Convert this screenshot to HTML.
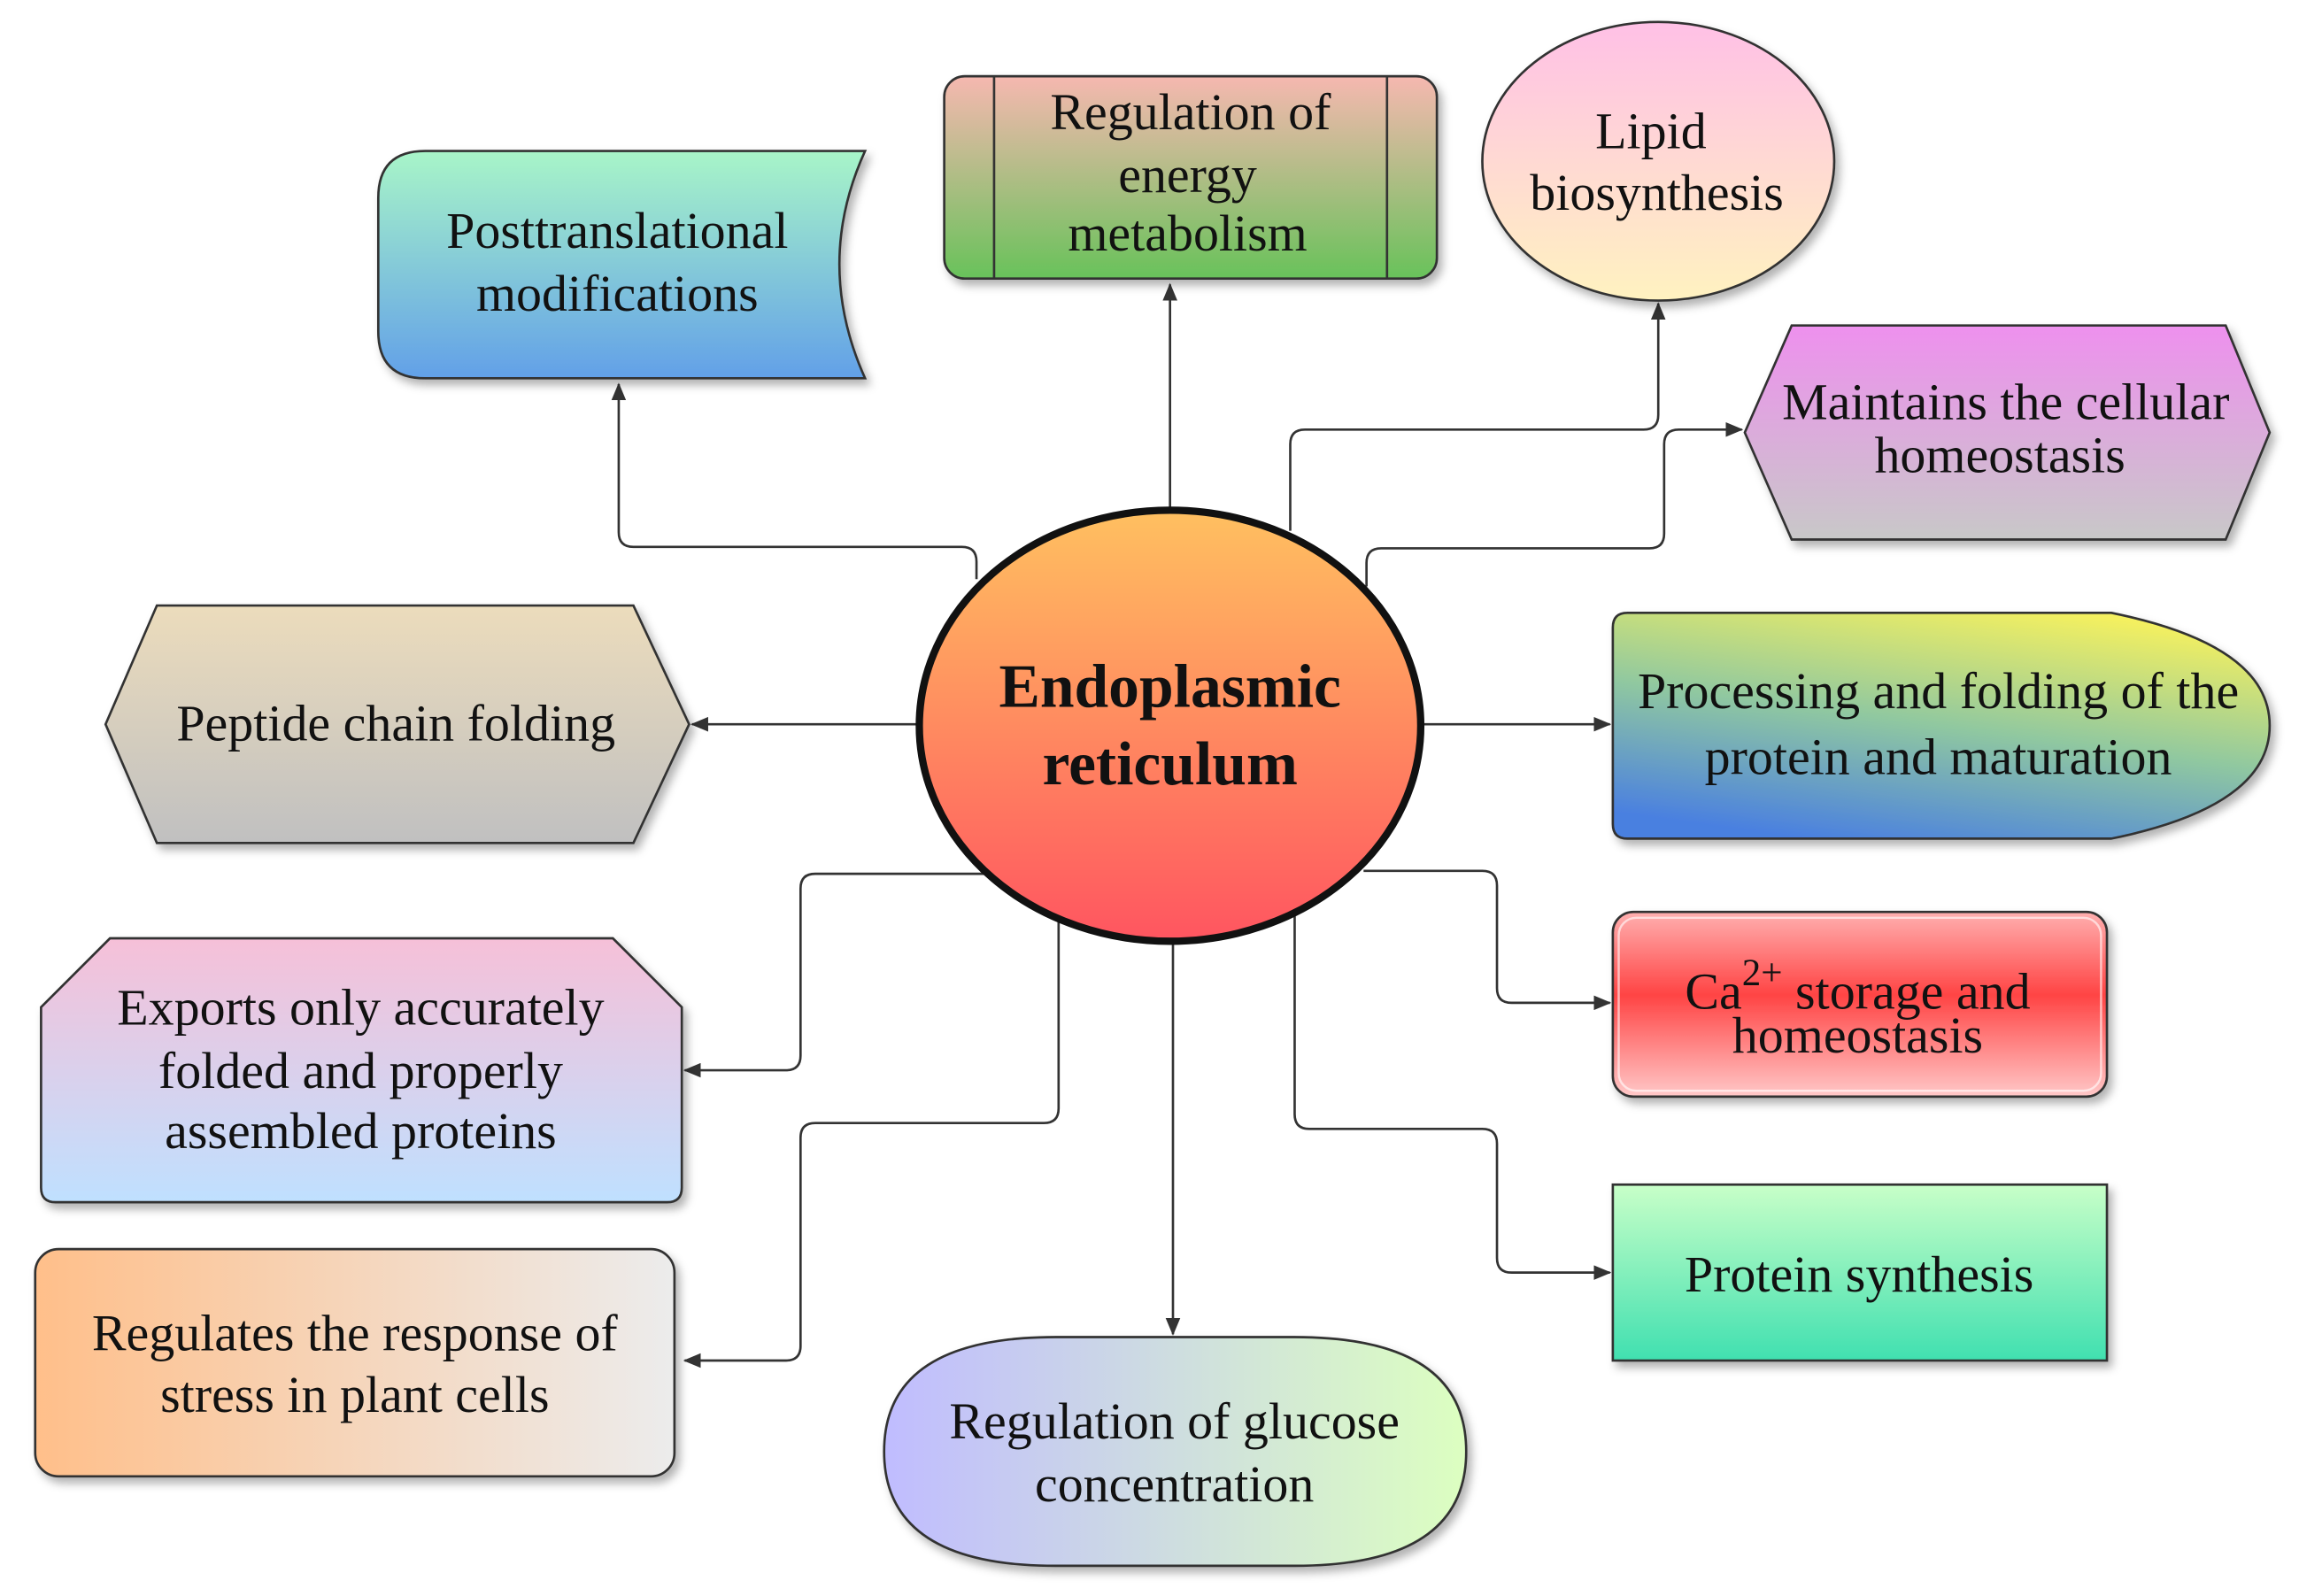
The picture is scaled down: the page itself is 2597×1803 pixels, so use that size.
<!DOCTYPE html>
<html><head><meta charset="utf-8"><style>html,body{margin:0;padding:0;background:#fff}svg{display:block}text{font-family:"Liberation Serif",serif;fill:#111}</style></head>
<body>
<svg width="2597" height="1803" viewBox="0 0 1568 1088.6" xmlns="http://www.w3.org/2000/svg">
<defs>
<filter id="sh" x="-10%" y="-10%" width="130%" height="130%"><feDropShadow dx="3" dy="4" stdDeviation="3" flood-color="#000" flood-opacity="0.3"/></filter>
<marker id="ar" markerWidth="12" markerHeight="10" refX="11" refY="5" orient="auto" markerUnits="userSpaceOnUse"><path d="M0,0 L12,5 L0,10 Z" fill="#333"/></marker>
<linearGradient id="gC" x1="0" y1="0" x2="0" y2="1"><stop offset="0" stop-color="#ffc060"/><stop offset="1" stop-color="#ff5560"/></linearGradient>
<linearGradient id="g1" x1="0" y1="0" x2="0" y2="1"><stop offset="0" stop-color="#a8f5c8"/><stop offset="1" stop-color="#62a0e8"/></linearGradient>
<linearGradient id="g2" x1="0" y1="0" x2="0" y2="1"><stop offset="0" stop-color="#f6b8b0"/><stop offset="1" stop-color="#68c25a"/></linearGradient>
<linearGradient id="g3" x1="0" y1="0" x2="0" y2="1"><stop offset="0" stop-color="#ffc0e6"/><stop offset="1" stop-color="#fff2c0"/></linearGradient>
<linearGradient id="g4" x1="0" y1="0" x2="0" y2="1"><stop offset="0" stop-color="#ee90ee"/><stop offset="1" stop-color="#c8c8c8"/></linearGradient>
<linearGradient id="g5" x1="0" y1="0" x2="0" y2="1"><stop offset="0" stop-color="#ecdcbc"/><stop offset="1" stop-color="#c0c0c0"/></linearGradient>
<linearGradient id="g6" x1="0.7" y1="0" x2="0.3" y2="1"><stop offset="0" stop-color="#f4f060"/><stop offset="0.5" stop-color="#90c8a0"/><stop offset="1" stop-color="#4a80e0"/></linearGradient>
<linearGradient id="g7" x1="0" y1="0" x2="0" y2="1"><stop offset="0" stop-color="#f6c0d8"/><stop offset="1" stop-color="#bfe0ff"/></linearGradient>
<linearGradient id="g8" x1="0" y1="0" x2="0" y2="1"><stop offset="0" stop-color="#ffb0b0"/><stop offset="0.45" stop-color="#f44"/><stop offset="1" stop-color="#ffc8c8"/></linearGradient>
<linearGradient id="g9" x1="0" y1="0" x2="1" y2="0"><stop offset="0" stop-color="#ffbf8a"/><stop offset="1" stop-color="#ececec"/></linearGradient>
<linearGradient id="g10" x1="0" y1="0" x2="0" y2="1"><stop offset="0" stop-color="#c8ffc8"/><stop offset="1" stop-color="#40e0b0"/></linearGradient>
<linearGradient id="g11" x1="0" y1="0" x2="1" y2="0"><stop offset="0" stop-color="#c0bcff"/><stop offset="1" stop-color="#dcffc0"/></linearGradient>
</defs>

<g fill="none" stroke="#333" stroke-width="1.6" stroke-linejoin="round">
<path d="M666,395 V383 Q666,373 656,373 H432 Q422,373 422,363 V262" marker-end="url(#ar)"/>
<path d="M798,347 V194" marker-end="url(#ar)"/>
<path d="M880,362 V303 Q880,293 890,293 H1121 Q1131,293 1131,283 V207" marker-end="url(#ar)"/>
<path d="M932,400 V384 Q932,374 942,374 H1125 Q1135,374 1135,364 V303 Q1135,293 1145,293 H1188" marker-end="url(#ar)"/>
<path d="M628,494 H472" marker-end="url(#ar)"/>
<path d="M970,494 H1098" marker-end="url(#ar)"/>
<path d="M672,596 H556 Q546,596 546,606 V720 Q546,730 536,730 H467" marker-end="url(#ar)"/>
<path d="M722,625 V756 Q722,766 712,766 H556 Q546,766 546,776 V918 Q546,928 536,928 H467" marker-end="url(#ar)"/>
<path d="M800,643 V910" marker-end="url(#ar)"/>
<path d="M930,594 H1011 Q1021,594 1021,604 V674 Q1021,684 1031,684 H1098" marker-end="url(#ar)"/>
<path d="M883,625 V760 Q883,770 893,770 H1011 Q1021,770 1021,780 V858 Q1021,868 1031,868 H1098" marker-end="url(#ar)"/>
</g>

<g stroke="#333" stroke-width="1.6" filter="url(#sh)">
<path d="M290,103 H590 Q555,180 590,258 H290 Q258,258 258,226 V135 Q258,103 290,103 Z" fill="url(#g1)"/>
<rect x="644" y="52" width="336" height="138" rx="14" fill="url(#g2)"/>
<ellipse cx="1131" cy="110" rx="120" ry="95" fill="url(#g3)"/>
<path d="M1222,222 H1518 L1548,295 L1518,368 H1222 L1190,295 Z" fill="url(#g4)"/>
<path d="M107,413 H432 L470,494 L432,575 H107 L72,494 Z" fill="url(#g5)"/>
<path d="M1110,418 H1440 Q1548,440 1548,495 Q1548,550 1440,572 H1110 Q1100,572 1100,562 V428 Q1100,418 1110,418 Z" fill="url(#g6)"/>
<path d="M75,640 H418 L465,687 V810 Q465,820 455,820 H38 Q28,820 28,810 V687 Z" fill="url(#g7)"/>
<rect x="1100" y="622" width="337" height="126" rx="14" fill="url(#g8)"/>
<rect x="24" y="852" width="436" height="155" rx="16" fill="url(#g9)"/>
<rect x="1100" y="808" width="337" height="120" fill="url(#g10)"/>
<path d="M720,912 H883 Q1000,912 1000,990 Q1000,1068 883,1068 H720 Q603,1068 603,990 Q603,912 720,912 Z" fill="url(#g11)"/>
</g>
<line x1="678" y1="52" x2="678" y2="190" stroke="#333" stroke-width="1.6"/>
<line x1="946" y1="52" x2="946" y2="190" stroke="#333" stroke-width="1.6"/>
<rect x="1104" y="626" width="329" height="118" rx="12" fill="none" stroke="#fff" stroke-opacity="0.6" stroke-width="1.5"/>

<ellipse cx="798" cy="495" rx="171" ry="147" fill="url(#gC)" stroke="#111" stroke-width="5"/>
<text x="798" y="482" font-size="42" font-weight="bold" text-anchor="middle">Endoplasmic</text>
<text x="798" y="535" font-size="42" font-weight="bold" text-anchor="middle">reticulum</text>

<g font-size="35" text-anchor="middle">
<text x="421" y="169">Posttranslational</text>
<text x="421" y="212">modifications</text>
<text x="812" y="88">Regulation of</text>
<text x="810" y="131">energy</text>
<text x="810" y="171">metabolism</text>
<text x="1126" y="101">Lipid</text>
<text x="1130" y="143">biosynthesis</text>
<text x="1368" y="286">Maintains the cellular</text>
<text x="1364" y="322">homeostasis</text>
<text x="270" y="505">Peptide chain folding</text>
<text x="1322" y="483">Processing and folding of the</text>
<text x="1322" y="528">protein and maturation</text>
<text x="246" y="699">Exports only accurately</text>
<text x="246" y="742">folded and properly</text>
<text x="246" y="783">assembled proteins</text>
<text x="1267" y="688">Ca<tspan font-size="26" dy="-16">2+</tspan><tspan dy="16"> storage and</tspan></text>
<text x="1267" y="718">homeostasis</text>
<text x="242" y="921">Regulates the response of</text>
<text x="242" y="963">stress in plant cells</text>
<text x="1268" y="881">Protein synthesis</text>
<text x="801" y="981">Regulation of glucose</text>
<text x="801" y="1024">concentration</text>
</g>
</svg>
</body></html>
